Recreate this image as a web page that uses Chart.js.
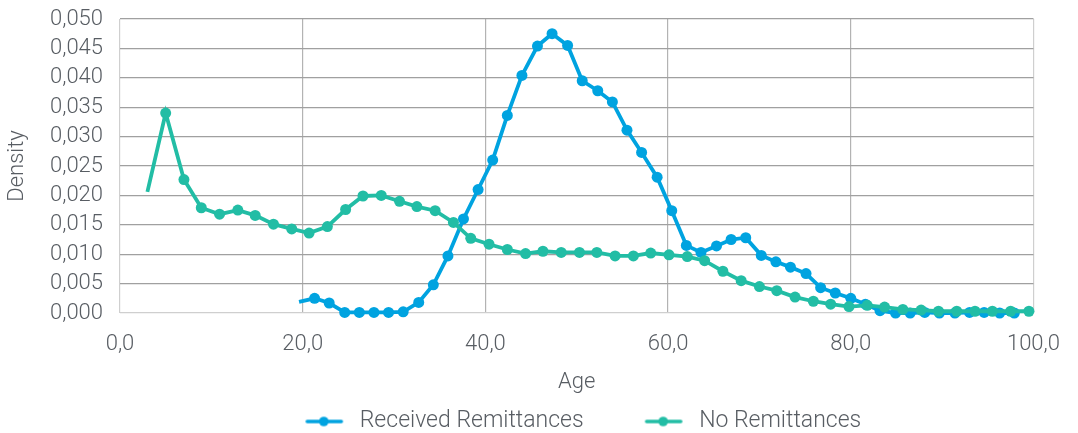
<!DOCTYPE html>
<html>
<head>
<meta charset="utf-8">
<script src="https://cdn.jsdelivr.net/npm/chart.js@4.4.1/dist/chart.umd.min.js"></script>
<style>
  html, body { margin: 0; padding: 0; background: #ffffff; }
  #wrap { width: 1078px; height: 433px; position: relative; }
</style>
</head>
<body>
<div id="wrap"><canvas id="c"></canvas></div>
<script>
// ---- Data ----
const seriesNames = ['Received Remittances', 'No Remittances'];

const remAges = [19.6, 21.3, 22.9, 24.6, 26.2, 27.8, 29.4, 31.0, 32.7, 34.3,
  35.9, 37.6, 39.2, 40.8, 42.4, 44.0, 45.7, 47.3, 49.0, 50.6,
  52.3, 53.9, 55.5, 57.1, 58.8, 60.4, 62.0, 63.6, 65.3, 66.9,
  68.5, 70.2, 71.8, 73.4, 75.1, 76.7, 78.3, 80.0, 81.6, 83.2,
  84.9, 86.5, 88.1, 89.7, 91.4, 93.0, 94.6, 96.3, 97.9];
const remDensity = [0.0019, 0.0025, 0.0017, 0.0001, 0.0001, 0.0001, 0.0001, 0.0002, 0.0018, 0.0048,
  0.0097, 0.0160, 0.0210, 0.0260, 0.0336, 0.0404, 0.0454, 0.0475, 0.0455, 0.0395,
  0.0378, 0.0359, 0.0311, 0.0273, 0.0231, 0.0174, 0.0115, 0.0103, 0.0114, 0.0125,
  0.0128, 0.0098, 0.0087, 0.0078, 0.0067, 0.0043, 0.0034, 0.0025, 0.0015, 0.0004,
  0.0000, 0.0000, 0.0001, 0.0000, 0.0000, 0.0001, 0.0001, 0.0000, 0.0000];

const noRemAges = [3.0, 5.0, 7.0, 8.9, 10.9, 12.9, 14.8, 16.8, 18.8, 20.7,
  22.7, 24.7, 26.6, 28.6, 30.6, 32.5, 34.5, 36.5, 38.4, 40.4,
  42.4, 44.4, 46.3, 48.3, 50.3, 52.2, 54.2, 56.2, 58.1, 60.1,
  62.1, 64.0, 66.0, 68.0, 70.0, 71.9, 73.9, 75.9, 77.8, 79.8,
  81.8, 83.7, 85.7, 87.7, 89.6, 91.6, 93.6, 95.5, 97.5, 99.5];
const noRemDensity = [0.0206, 0.0340, 0.0227, 0.0179, 0.0168, 0.0175, 0.0166, 0.0151, 0.0143, 0.0136,
  0.0147, 0.0176, 0.0199, 0.0200, 0.0190, 0.0181, 0.0174, 0.0154, 0.0127, 0.0117,
  0.0108, 0.0101, 0.0105, 0.0103, 0.0103, 0.0103, 0.0097, 0.0097, 0.0102, 0.0099,
  0.0096, 0.0089, 0.0071, 0.0055, 0.0045, 0.0038, 0.0027, 0.0020, 0.0015, 0.0011,
  0.0013, 0.0010, 0.0006, 0.0005, 0.0003, 0.0003, 0.0003, 0.0003, 0.0003, 0.0003];

const xTickValues = [0, 20, 40, 60, 80, 100];
const yTickValues = [0, 0.005, 0.010, 0.015, 0.020, 0.025, 0.030, 0.035, 0.040, 0.045, 0.050];
const xTitle = 'Age';
const yTitle = 'Density';

// ---- Styles ----
const BLUE = '#00a3e0';
const GREEN = '#22bda5';
const TEXT = '#585d63';
const FONT = 'Roboto, "Liberation Sans", sans-serif';

function toPoints(xs, ys) { return xs.map((x, i) => ({ x: x, y: ys[i] })); }
function fmt(v, d) { return v.toFixed(d).replace('.', ','); }

const ICON_MARGIN = 13;
function legendIcon(color) {
  const c = document.createElement('canvas');
  c.width = 43 + ICON_MARGIN; c.height = 12;
  const g = c.getContext('2d');
  const m = ICON_MARGIN;
  g.strokeStyle = color; g.lineWidth = 3.6; g.lineCap = 'round';
  g.beginPath(); g.moveTo(m + 2, 6); g.lineTo(m + 36, 6); g.stroke();
  g.fillStyle = color;
  g.beginPath(); g.arc(m + 18.5, 6, 4.8, 0, Math.PI * 2); g.fill();
  return c;
}

const LEG_PAD = 48;
const legendTweak = {
  id: 'legendTweak',
  beforeLayout(chart) {
    const lg = chart.legend;
    if (lg && !lg._tw) {
      const orig = lg.fit.bind(lg);
      lg.fit = function () { orig(); this.height = 24; };
      lg._tw = true;
    }
  },
  afterLayout(chart) {
    const lg = chart.legend;
    if (lg) { lg.top -= (LEG_PAD - 1); lg.height = lg.bottom - lg.top; }
  }
};

const firstNoMarker = (ctx) => ctx.dataIndex === 0 ? 0 : 5.5;

new Chart(document.getElementById('c'), {
  type: 'line',
  data: {
    datasets: [
      {
        label: seriesNames[0],
        data: toPoints(remAges, remDensity),
        borderColor: BLUE, backgroundColor: BLUE,
        borderWidth: 3.8, pointRadius: firstNoMarker,
        pointBackgroundColor: BLUE, pointBorderWidth: 0,
        tension: 0, clip: false, order: 1
      },
      {
        label: seriesNames[1],
        data: toPoints(noRemAges, noRemDensity),
        borderColor: GREEN, backgroundColor: GREEN,
        borderWidth: 3.8, pointRadius: firstNoMarker,
        pointBackgroundColor: GREEN, pointBorderWidth: 0,
        tension: 0, clip: false, order: 0
      }
    ]
  },
  options: {
    responsive: true,
    maintainAspectRatio: false,
    animation: false,
    events: [],
    layout: { padding: { top: 19, right: 42, left: 0, bottom: 0 } },
    scales: {
      x: {
        type: 'linear', min: 0, max: 100,
        afterBuildTicks: (s) => { s.ticks = xTickValues.map(v => ({ value: v })); },
        afterFit: (s) => { s.height = 96; },
        grid: {
          drawTicks: false,
          color: (c) => (c.tick && (c.tick.value === 0 || c.tick.value === 100)) ? '#cfcfcf' : '#b3b3b3',
          lineWidth: 1.2
        },
        border: { display: false },
        ticks: {
          autoSkip: false, maxRotation: 0,
          padding: 18, color: TEXT,
          font: { family: FONT, size: 22, weight: 300 },
          callback: (v) => fmt(v, 1)
        },
        title: {
          display: true, text: xTitle, color: TEXT,
          font: { family: FONT, size: 22, weight: 300 },
          padding: { top: 0, bottom: 13 }
        }
      },
      y: {
        type: 'linear', min: 0, max: 0.05,
        afterBuildTicks: (s) => { s.ticks = yTickValues.map(v => ({ value: v })); },
        afterFit: (s) => { s.width = 120; s.paddingTop = 0; s.paddingBottom = 0; },
        grid: {
          drawTicks: false,
          color: (c) => (c.tick && c.tick.value === 0) ? '#cfcfcf' : '#a0a0a0',
          lineWidth: 1.2
        },
        border: { display: false },
        ticks: {
          autoSkip: false,
          padding: 17, color: TEXT,
          font: { family: FONT, size: 22, weight: 300 },
          callback: (v) => fmt(v, 3)
        },
        title: {
          display: true, text: yTitle, color: TEXT,
          font: { family: FONT, size: 22, weight: 300 },
          padding: { top: 4, bottom: 0 }
        }
      }
    },
    plugins: {
      tooltip: { enabled: false },
      legend: {
        display: true, position: 'bottom', fullSize: false,
        labels: {
          usePointStyle: true, pointStyleWidth: 43 + ICON_MARGIN, padding: LEG_PAD,
          color: TEXT,
          font: { family: FONT, size: 23, weight: 300 },
          generateLabels: () => [
            { text: seriesNames[0], datasetIndex: 0, pointStyle: legendIcon(BLUE), fillStyle: BLUE, strokeStyle: BLUE, lineWidth: 0, fontColor: TEXT, hidden: false },
            { text: seriesNames[1], datasetIndex: 1, pointStyle: legendIcon(GREEN), fillStyle: GREEN, strokeStyle: GREEN, lineWidth: 0, fontColor: TEXT, hidden: false }
          ]
        }
      }
    }
  },
  plugins: [legendTweak]
});
</script>
</body>
</html>
